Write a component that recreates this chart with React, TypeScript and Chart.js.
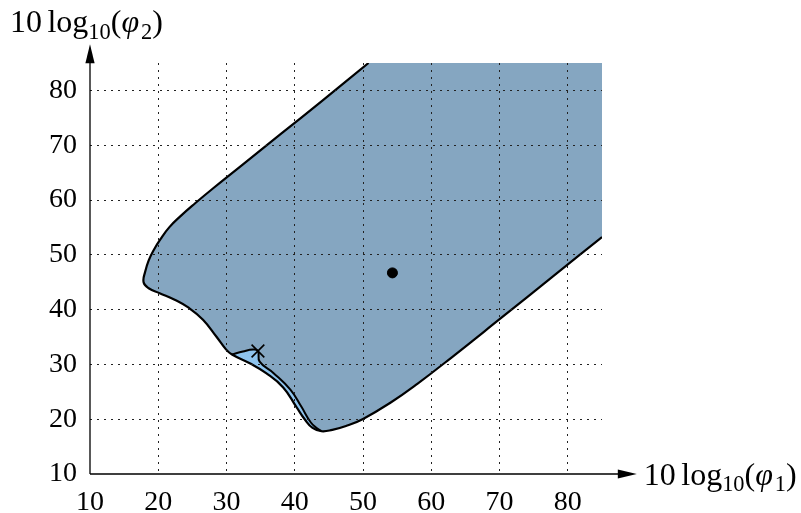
import { useEffect, useRef } from 'react';
import { Chart, registerables } from 'chart.js';

Chart.register(...registerables);

// Axis ranges and ticks
const xMin = 10;
const xMax = 85;
const yMin = 10;
const yMax = 85;
const xAxisEnd = 90.1;
const yAxisEnd = 88.4;
const tickStep = 10;

// Lower-right boundary: from the right edge down to the minimum
const lowerX = [85, 78, 70, 63, 58, 54, 50, 47.5, 45.5, 43.9];
const lowerY = [53.25, 46.25, 38.25, 31.3, 26.5, 23.0, 20.05, 18.75, 18.05, 17.8];
// Outer curve of the light sliver: from the minimum up to the junction
const outerX = [42.6, 41.5, 40.2, 38.3, 35.8, 33.4, 30.8];
const outerY = [18.4, 19.9, 22.3, 25.8, 28.4, 30.2, 31.8];
// Left part: from the junction up to the tip
const leftX = [29.95, 28.5, 26.55, 24.5, 22.4, 20.2, 18.6, 17.85];
const leftY = [32.7, 35.1, 38.15, 40.3, 41.8, 43.0, 43.9, 45.0];
// Upper boundary: from the tip to the top edge
const upperX = [18.1, 18.6, 19.3, 20.3, 21.6, 23.3, 25.4, 28.0, 32.0, 38.0, 44.0, 50.8];
const upperY = [47.0, 49.0, 50.8, 52.8, 55.0, 57.1, 59.4, 62.1, 66.1, 72.1, 78.1, 85.0];
// Region corner (top-right)
const cornerX = [85];
const cornerY = [85];
// Light sliver: top edge from the junction to the cross, then inner curve down to the minimum
const sliverTopX = [30.8, 32.4, 33.9, 34.6];
const sliverTopY = [31.8, 32.35, 32.7, 32.45];
const innerX = [34.85, 36.9, 39.35, 40.95, 42.35, 43.3, 43.9];
const innerY = [30.5, 28.4, 25.4, 22.3, 19.4, 18.3, 17.8];
// Markers
const crossX = [34.6];
const crossY = [32.45];
const dotX = [54.3];
const dotY = [46.7];

const darkFill = 'rgb(133,166,193)';
const lightFill = 'rgb(142,196,238)';

const pts = (xs: number[], ys: number[]) => xs.map((x, i) => ({ x, y: ys[i] }));

const outline = [...pts(lowerX, lowerY), ...pts(outerX, outerY), ...pts(leftX, leftY), ...pts(upperX, upperY)];
const regionPoly = [outline[0], ...outline, outline[outline.length - 1], ...pts(cornerX, cornerY)];
const sliverPoly = [
  ...pts(sliverTopX, sliverTopY),
  ...pts(innerX, innerY),
  ...pts(outerX, outerY),
];
const innerLine = [...pts(sliverTopX, sliverTopY), ...pts(innerX, innerY)];

const FONT = '"Liberation Serif", "Times New Roman", serif';

type Part = { t: string; sub?: boolean; italic?: boolean; gap?: number };

function drawMath(ctx: CanvasRenderingContext2D, x: number, y: number, size: number, parts: Part[]) {
  let cx = x;
  ctx.textBaseline = 'alphabetic';
  ctx.textAlign = 'left';
  ctx.fillStyle = '#000';
  for (const p of parts) {
    if (p.gap) {
      cx += p.gap * size;
      continue;
    }
    const s = p.sub ? size * 0.7 : size;
    ctx.font = `${p.italic ? 'italic ' : ''}${s}px ${FONT}`;
    const dy = p.sub ? size * 0.2 : 0;
    ctx.fillText(p.t, cx, y + dy);
    cx += ctx.measureText(p.t).width + (p.italic ? size * 0.06 : 0);
  }
}

const titleParts = (idx: string): Part[] => [
  { t: '10' },
  { t: '', gap: 0.17 },
  { t: 'log' },
  { t: '10', sub: true },
  { t: '(' },
  { t: '\u03C6', italic: true },
  { t: idx, sub: true },
  { t: ')' },
];

const axesPlugin = {
  id: 'axesArrows',
  afterDraw(chart: any) {
    const { ctx, scales } = chart;
    const xs = scales.x;
    const ys = scales.y;
    const x0 = xs.getPixelForValue(xMin);
    const y0 = ys.getPixelForValue(yMin);
    const xe = xs.getPixelForValue(xAxisEnd);
    const ye = ys.getPixelForValue(yAxisEnd);
    ctx.save();
    ctx.strokeStyle = '#000';
    ctx.fillStyle = '#000';
    ctx.lineWidth = 1.3;
    ctx.beginPath();
    ctx.moveTo(x0, y0);
    ctx.lineTo(xe - 12, y0);
    ctx.moveTo(x0, y0);
    ctx.lineTo(x0, ye + 12);
    ctx.stroke();
    ctx.beginPath();
    ctx.moveTo(xe, y0);
    ctx.lineTo(xe - 19, y0 - 4.6);
    ctx.lineTo(xe - 19, y0 + 4.6);
    ctx.closePath();
    ctx.fill();
    ctx.beginPath();
    ctx.moveTo(x0, ye);
    ctx.lineTo(x0 - 4.6, ye + 19);
    ctx.lineTo(x0 + 4.6, ye + 19);
    ctx.closePath();
    ctx.fill();
    drawMath(ctx, xe + 7, y0 + 11, 32, titleParts('1'));
    drawMath(ctx, 10, ye - 12, 32, titleParts('2'));
    ctx.restore();
  },
};

const gridColor = (c: any) => (c.tick && c.tick.value === xMin ? 'rgba(0,0,0,0)' : '#222');

export default function App() {
  const ref = useRef<HTMLCanvasElement | null>(null);
  useEffect(() => {
    if (!ref.current) return;
    const common = { pointRadius: 0, pointHoverRadius: 0, tension: 0.45, showLine: true };
    const chart = new Chart(ref.current, {
      type: 'line',
      data: {
        datasets: [
          {
            data: pts(crossX, crossY),
            showLine: false,
            pointStyle: 'crossRot',
            pointRadius: 9,
            pointBorderWidth: 1.6,
            pointBorderColor: '#000',
            pointBackgroundColor: '#000',
            borderColor: '#000',
          },
          {
            data: pts(dotX, dotY),
            showLine: false,
            pointStyle: 'circle',
            pointRadius: 5,
            pointBorderWidth: 1,
            pointBorderColor: '#000',
            pointBackgroundColor: '#000',
            borderColor: '#000',
          },
          { ...common, data: innerLine, borderColor: '#000', borderWidth: 2, fill: false },
          { ...common, data: outline, borderColor: '#000', borderWidth: 2.2, fill: false },
          { ...common, data: sliverPoly, borderColor: 'rgba(0,0,0,0)', borderWidth: 0, backgroundColor: lightFill, fill: 'shape' },
          { ...common, data: regionPoly, borderColor: 'rgba(0,0,0,0)', borderWidth: 0, backgroundColor: darkFill, fill: 'shape' },
        ] as any,
      },
      options: {
        responsive: false,
        animation: false,
        events: [],
        layout: { padding: { left: 0, right: 199, top: 63, bottom: 0 } },
        plugins: { legend: { display: false }, tooltip: { enabled: false } },
        scales: {
          x: {
            type: 'linear',
            min: xMin,
            max: xMax,
            afterFit: (s: any) => {
              s.height = 39;
            },
            grid: { color: gridColor, lineWidth: 1, drawTicks: false, z: 1 },
            border: { display: false, dash: [2, 5] },
            ticks: {
              stepSize: tickStep,
              includeBounds: false,
              autoSkip: false,
              maxRotation: 0,
              padding: 12,
              color: '#000',
              font: { family: FONT, size: 28 },
            },
          },
          y: {
            type: 'linear',
            min: yMin,
            max: yMax,
            afterFit: (s: any) => {
              s.width = 90;
            },
            grid: { color: gridColor, lineWidth: 1, drawTicks: false, z: 1 },
            border: { display: false, dash: [2, 5] },
            ticks: {
              stepSize: tickStep,
              includeBounds: false,
              autoSkip: false,
              padding: 13,
              color: '#000',
              font: { family: FONT, size: 28 },
            },
          },
        },
      } as any,
      plugins: [axesPlugin],
    });
    return () => chart.destroy();
  }, []);
  return (
    <div style={{ position: 'absolute', left: 0, top: 0, width: 801, height: 513 }}>
      <canvas ref={ref} width={801} height={513} style={{ display: 'block' }} />
    </div>
  );
}
